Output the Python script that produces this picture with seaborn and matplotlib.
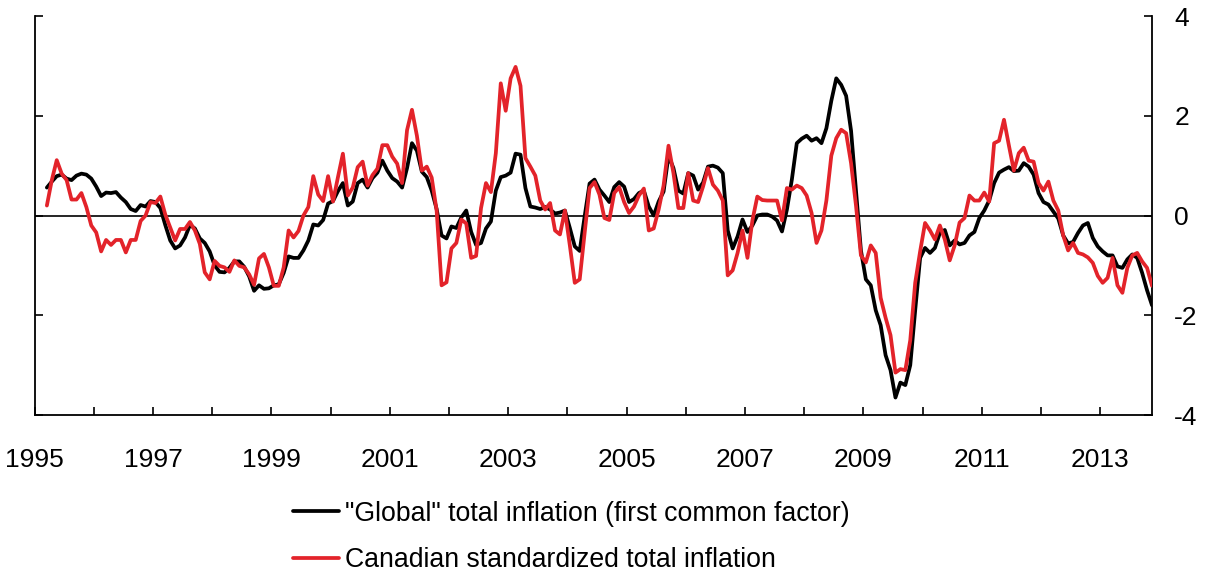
import numpy as np
import pandas as pd
import matplotlib
matplotlib.use("Agg")
import matplotlib.pyplot as plt
import seaborn as sns

# Monthly observations, March 1995 - November 2013
start_year, start_month = 1995, 3

global_factor = [
    0.56, 0.68, 0.79, 0.82, 0.74, 0.71, 0.80, 0.84, 0.82, 0.74, 0.58, 0.39, 0.46, 0.45, 0.47, 0.36, 0.27, 0.13,
    0.09, 0.21, 0.18, 0.29, 0.27, 0.15, -0.19, -0.50, -0.66, -0.60, -0.44, -0.19, -0.26, -0.46, -0.55, -0.72, -1.00, -1.13,
    -1.14, -1.05, -0.92, -0.92, -1.03, -1.22, -1.51, -1.40, -1.47, -1.46, -1.40, -1.38, -1.15, -0.82, -0.85, -0.85, -0.70, -0.50,
    -0.18, -0.20, -0.09, 0.24, 0.29, 0.49, 0.65, 0.20, 0.28, 0.65, 0.72, 0.56, 0.75, 0.86, 1.10, 0.90, 0.75, 0.68,
    0.56, 0.95, 1.45, 1.30, 0.88, 0.77, 0.50, 0.13, -0.40, -0.46, -0.22, -0.25, -0.04, 0.10, -0.33, -0.59, -0.55, -0.26,
    -0.12, 0.50, 0.77, 0.80, 0.86, 1.24, 1.22, 0.55, 0.18, 0.16, 0.13, 0.17, 0.12, 0.04, 0.06, 0.10, -0.25, -0.62,
    -0.71, -0.02, 0.64, 0.72, 0.52, 0.40, 0.27, 0.57, 0.67, 0.58, 0.27, 0.33, 0.45, 0.50, 0.18, 0.00, 0.28, 0.48,
    1.20, 0.95, 0.50, 0.44, 0.85, 0.80, 0.52, 0.66, 0.98, 1.00, 0.96, 0.85, -0.30, -0.66, -0.42, -0.08, -0.33, -0.20, 0.00,
    0.02, 0.02, -0.02, -0.10, -0.32, 0.12, 0.72, 1.45, 1.54, 1.60, 1.50, 1.55, 1.45, 1.75, 2.30, 2.75, 2.62, 2.40,
    1.70, 0.50, -0.70, -1.28, -1.40, -1.90, -2.20, -2.80, -3.10, -3.65, -3.35, -3.40, -3.00, -1.90, -0.85, -0.65, -0.75, -0.65, -0.35,
    -0.29, -0.60, -0.50, -0.58, -0.55, -0.40, -0.33, -0.05, 0.10, 0.30, 0.65, 0.86, 0.92, 0.97, 0.89, 0.90, 1.05, 0.98,
    0.82, 0.45, 0.27, 0.22, 0.08, -0.06, -0.40, -0.56, -0.53, -0.35, -0.20, -0.15, -0.45, -0.62, -0.72, -0.80, -0.80, -1.02,
    -1.05, -0.88, -0.78, -0.85, -1.15, -1.50, -1.80,
]

canadian = [
    0.20, 0.71, 1.11, 0.84, 0.71, 0.32, 0.32, 0.45, 0.17, -0.20, -0.34, -0.72, -0.49, -0.59, -0.49, -0.49, -0.74, -0.49,
    -0.49, -0.11, 0.00, 0.27, 0.25, 0.38, 0.02, -0.24, -0.50, -0.27, -0.27, -0.13, -0.30, -0.57, -1.14, -1.28, -0.91, -1.01,
    -1.04, -1.13, -0.90, -1.01, -1.04, -1.18, -1.39, -0.86, -0.77, -1.04, -1.41, -1.41, -1.04, -0.30, -0.44, -0.31, 0.00, 0.17,
    0.79, 0.42, 0.29, 0.79, 0.28, 0.77, 1.24, 0.40, 0.56, 0.97, 1.08, 0.60, 0.81, 0.94, 1.41, 1.41, 1.18, 1.04,
    0.65, 1.71, 2.12, 1.60, 0.90, 0.98, 0.76, 0.10, -1.40, -1.34, -0.66, -0.55, -0.08, -0.16, -0.85, -0.81, 0.15, 0.65,
    0.47, 1.25, 2.65, 2.10, 2.75, 2.98, 2.60, 1.15, 0.98, 0.80, 0.30, 0.12, 0.25, -0.30, -0.38, 0.10, -0.60, -1.35,
    -1.28, -0.35, 0.55, 0.67, 0.42, -0.05, -0.09, 0.45, 0.57, 0.27, 0.05, 0.18, 0.40, 0.54, -0.30, -0.26, 0.12, 0.60,
    1.40, 0.85, 0.15, 0.15, 0.85, 0.30, 0.27, 0.58, 0.95, 0.62, 0.50, 0.30, -1.20, -1.10, -0.75, -0.30, -0.85, -0.10, 0.38,
    0.31, 0.30, 0.30, 0.30, -0.10, 0.55, 0.52, 0.60, 0.55, 0.40, 0.05, -0.55, -0.30, 0.30, 1.20, 1.55, 1.72, 1.65,
    1.05, 0.20, -0.80, -0.94, -0.60, -0.75, -1.65, -2.05, -2.40, -3.15, -3.08, -3.10, -2.50, -1.35, -0.72, -0.15, -0.30, -0.48, -0.20,
    -0.48, -0.90, -0.60, -0.14, -0.05, 0.40, 0.30, 0.30, 0.46, 0.28, 1.45, 1.50, 1.92, 1.40, 0.90, 1.25, 1.36, 1.10,
    1.08, 0.65, 0.50, 0.68, 0.30, 0.10, -0.40, -0.70, -0.55, -0.75, -0.78, -0.84, -0.95, -1.21, -1.35, -1.25, -0.85, -1.40,
    -1.55, -1.05, -0.80, -0.75, -0.92, -1.05, -1.41,
]

label_global = '"Global" total inflation (first common factor)'
label_canada = "Canadian standardized total inflation"
year_ticks = list(range(1995, 2014))
year_labels = [str(y) if (y - 1995) % 2 == 0 else "" for y in year_ticks]
y_ticks = [4, 2, 0, -2, -4]

n = len(global_factor)
months = pd.date_range(f"{start_year}-{start_month:02d}-01", periods=n, freq="MS")
dec_year = months.year + (months.month - 1 + 0.5) / 12.0

df = pd.DataFrame({
    "date": np.concatenate([dec_year, dec_year]),
    "value": global_factor + canadian,
    "series": [label_global] * n + [label_canada] * len(canadian),
})

sns.set_theme(style="ticks")
plt.rcParams["font.family"] = ["Liberation Sans", "DejaVu Sans"]
plt.rcParams["axes.unicode_minus"] = False
plt.rcParams["text.color"] = "black"

fig = plt.figure(figsize=(12.12, 5.76), dpi=100)
ax = fig.add_axes([0.0285, 0.2795, 0.9220, 0.6927])

ax.axhline(0, color="black", lw=1.2, zorder=1)
sns.lineplot(data=df, x="date", y="value", hue="series",
             palette={label_global: "black", label_canada: "#e3232a"},
             linewidth=2.7, ax=ax, legend=False, zorder=3)

ax.set_xlim(1995.0, dec_year[-1])
ax.set_ylim(-4, 4)
ax.set_xticks(year_ticks)
ax.set_xticklabels(year_labels)
ax.set_yticks(y_ticks)
ax.set_yticklabels([str(v) for v in y_ticks])
ax.set_xlabel("")
ax.set_ylabel("")

for s in ["left", "right", "bottom"]:
    ax.spines[s].set_visible(True)
    ax.spines[s].set_color("black")
    ax.spines[s].set_linewidth(1.3)
ax.spines["top"].set_visible(False)

ax.tick_params(axis="x", direction="in", length=6, width=1.2, pad=24, labelsize=19, colors="black")
ax.tick_params(axis="y", direction="in", length=6, width=1.2, pad=16, labelsize=19,
               left=True, right=True, labelleft=False, labelright=True, colors="black")

handles = [
    plt.Line2D([], [], color="black", lw=2.7),
    plt.Line2D([], [], color="#e3232a", lw=2.7),
]
fig.legend(handles, [label_global, label_canada], loc="upper left",
           bbox_to_anchor=(0.2417, 0.131), frameon=False, fontsize=19.2,
           handlelength=1.72, handletextpad=0.25, labelspacing=0.78,
           borderpad=0, borderaxespad=0, labelcolor="black")

fig.savefig("out.png", dpi=100, facecolor="white")
